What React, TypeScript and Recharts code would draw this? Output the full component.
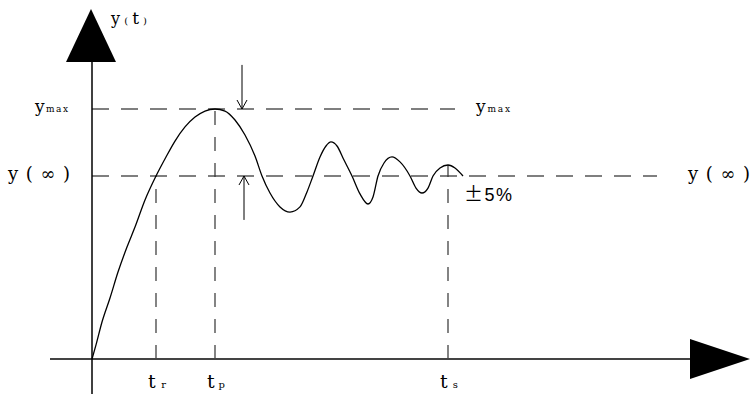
import React from "react";
import { LineChart, Line, XAxis, YAxis, ReferenceLine, ReferenceDot } from "recharts";

// Step-response curve y(t) (t in arbitrary units, y normalised so y(inf)=1)
const curveT = [0, 0.04, 0.1, 0.18, 0.26, 0.35, 0.43, 0.53, 0.64, 0.74, 0.83, 0.93, 1.03, 1.13, 1.23, 1.33, 1.43, 1.53, 1.63, 1.7, 1.78, 1.88, 1.98, 2.08, 2.15, 2.21, 2.28, 2.34, 2.39, 2.45, 2.52, 2.6, 2.68, 2.76, 2.81, 2.86, 2.92, 3.0, 3.08, 3.18, 3.24, 3.3, 3.36, 3.41, 3.48, 3.56, 3.63, 3.71];
const curveY = [0, 0.077, 0.202, 0.333, 0.475, 0.612, 0.721, 0.869, 1.0, 1.104, 1.191, 1.268, 1.322, 1.355, 1.366, 1.355, 1.306, 1.224, 1.109, 1.0, 0.907, 0.831, 0.803, 0.831, 0.913, 1.0, 1.104, 1.164, 1.186, 1.164, 1.087, 1.0, 0.902, 0.847, 0.885, 1.0, 1.071, 1.104, 1.077, 1.0, 0.934, 0.907, 0.934, 1.0, 1.044, 1.06, 1.044, 1.0];

// Characteristic times: rise, peak, settling
const timeMarks = [0.64, 1.23, 3.56];
const timeSubs = ["r", "p", "s"];
const timeMarkLevels = [1.0, 1.366, 1.06];

// Levels
const yMax = 1.366;
const yInf = 1.0;
const levelEnds = [3.63, 5.65]; // end of dashed ymax / y(inf) lines

// Axes extents
const xDomain = [-0.92, 6.59];
const yDomain = [-0.1913, 1.9617];
const xAxisStart = -0.42;
const xAxisEnd = 5.98;
const yAxisTop = 1.623;

// Overshoot arrows
const overshootArrowX = [1.5, 1.52];
const overshootArrowFrom = [1.607, 0.76];

const data = curveT.map((t, i) => ({ t, y: curveY[i] }));

const SERIF = "'DejaVu Serif', 'Liberation Serif', serif";

type Part = { s: string; size: number; ls?: number };
const textShape = (parts: Part[], dx: number, dy: number, len?: number, family = SERIF) =>
  (p: any) => (
    <text
      x={p.cx + dx}
      y={p.cy + dy}
      fontFamily={family}
      fill="#000"
      textLength={len}
      lengthAdjust={len ? "spacing" : undefined}
    >
      {parts.map((q, i) => (
        <tspan key={i} fontSize={q.size} letterSpacing={q.ls}>
          {q.s}
        </tspan>
      ))}
    </text>
  );

const dashH = "17 12";
const dashV = "14 12";
const dashColor = "#555";

export default function App() {
  return (
    <div style={{ position: "absolute", left: 0, top: 0 }}>
      <LineChart width={751} height={394} data={data} margin={{ top: 0, right: 0, bottom: 0, left: 0 }}>
        <XAxis type="number" dataKey="t" domain={xDomain} allowDataOverflow hide />
        <YAxis type="number" domain={yDomain} allowDataOverflow hide />

        {/* dashed level lines */}
        <ReferenceLine segment={[{ x: 0, y: yMax }, { x: levelEnds[0], y: yMax }]} stroke={dashColor} strokeWidth={1.5} strokeDasharray={dashH} />
        <ReferenceLine segment={[{ x: 0, y: yInf }, { x: levelEnds[1], y: yInf }]} stroke={dashColor} strokeWidth={1.5} strokeDasharray={dashH} />
        {timeMarks.map((tm, i) => (
          <ReferenceLine key={"v" + i} segment={[{ x: tm, y: 0 }, { x: tm, y: timeMarkLevels[i] }]} stroke="#333" strokeWidth={1.2} strokeDasharray={dashV} />
        ))}

        {/* axes */}
        <ReferenceLine segment={[{ x: xAxisStart, y: 0 }, { x: xAxisEnd, y: 0 }]} stroke="#444" strokeWidth={2} />
        <ReferenceLine segment={[{ x: 0, y: yDomain[0] }, { x: 0, y: yAxisTop }]} stroke="#000" strokeWidth={1.5} />
        <ReferenceDot x={0} y={yAxisTop} r={1} shape={(p: any) => (
          <polygon points={`${p.cx - 1},${p.cy - 53} ${p.cx - 26},${p.cy} ${p.cx + 24},${p.cy}`} fill="#000" />
        )} />
        <ReferenceDot x={xAxisEnd} y={0} r={1} shape={(p: any) => (
          <polygon points={`${p.cx},${p.cy - 20} ${p.cx},${p.cy + 20} ${p.cx + 60},${p.cy}`} fill="#000" />
        )} />

        {/* overshoot arrows */}
        <ReferenceLine segment={[{ x: overshootArrowX[0], y: overshootArrowFrom[0] }, { x: overshootArrowX[0], y: yMax }]} stroke="#000" strokeWidth={1} />
        <ReferenceDot x={overshootArrowX[0]} y={yMax} r={1} shape={(p: any) => (
          <polyline points={`${p.cx - 5},${p.cy - 9} ${p.cx},${p.cy} ${p.cx + 5},${p.cy - 9}`} fill="none" stroke="#000" strokeWidth={1} />
        )} />
        <ReferenceLine segment={[{ x: overshootArrowX[1], y: overshootArrowFrom[1] }, { x: overshootArrowX[1], y: yInf }]} stroke="#000" strokeWidth={1} />
        <ReferenceDot x={overshootArrowX[1]} y={yInf} r={1} shape={(p: any) => (
          <polyline points={`${p.cx - 5},${p.cy + 9} ${p.cx},${p.cy} ${p.cx + 5},${p.cy + 9}`} fill="none" stroke="#000" strokeWidth={1} />
        )} />

        <Line type="monotone" dataKey="y" stroke="#000" strokeWidth={1.3} dot={false} activeDot={false} isAnimationActive={false} />

        {/* labels */}
        <ReferenceDot x={0} y={yAxisTop} r={0} shape={textShape([
          { s: "y", size: 16 }, { s: "(", size: 10 }, { s: "t", size: 17 }, { s: ")", size: 10 },
        ], 19, -38, 36)} />
        <ReferenceDot x={0} y={yMax} r={0} shape={textShape([
          { s: "y", size: 17 }, { s: "max", size: 9 },
        ], -57, 3, 33)} />
        <ReferenceDot x={0} y={yInf} r={0} shape={textShape([
          { s: "y(∞)", size: 18 },
        ], -84, 4, 62)} />
        <ReferenceDot x={levelEnds[0]} y={yMax} r={0} shape={textShape([
          { s: "y", size: 17 }, { s: "max", size: 9 },
        ], 21, 3, 34)} />
        <ReferenceDot x={levelEnds[1]} y={yInf} r={0} shape={textShape([
          { s: "y(∞)", size: 18 },
        ], 31, 4, 62)} />
        <ReferenceDot x={timeMarks[2]} y={yInf} r={0} shape={(p: any) => (
          <text x={p.cx + 16} y={p.cy + 25} fill="#000" textLength={48} lengthAdjust="spacing">
            <tspan fontFamily="'Noto Sans CJK SC', sans-serif" fontSize={19}>±</tspan>
            <tspan fontFamily="'Liberation Sans', Arial, sans-serif" fontSize={18}>5%</tspan>
          </text>
        )} />
        {timeMarks.map((tm, i) => (
          <ReferenceDot key={"tl" + i} x={tm} y={0} r={0} shape={textShape([
            { s: "t", size: 19 }, { s: " " + timeSubs[i], size: 10 },
          ], -8, 29, 18)} />
        ))}
      </LineChart>
    </div>
  );
}
